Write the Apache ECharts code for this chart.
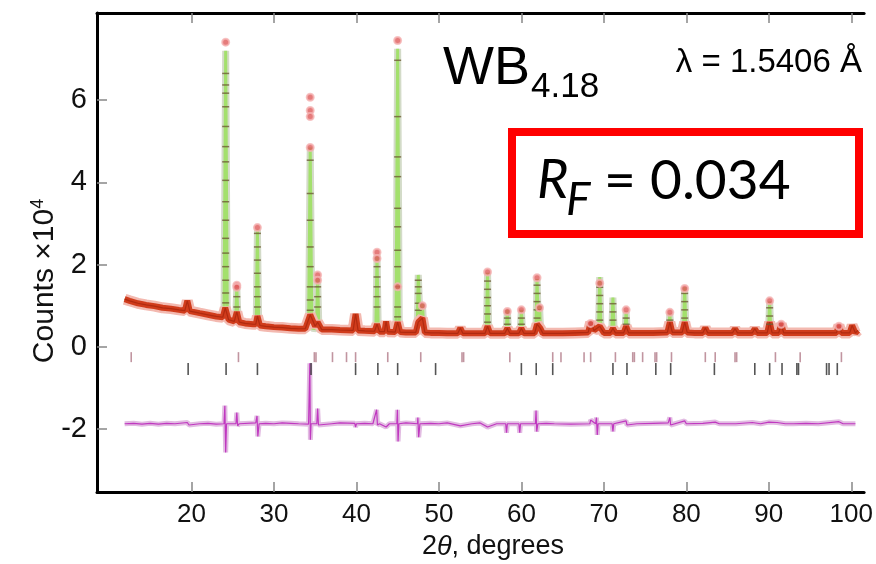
<!DOCTYPE html>
<html><head><meta charset="utf-8">
<script src="https://cdn.jsdelivr.net/npm/echarts@6/dist/echarts.min.js"></script>
<style>html,body{margin:0;padding:0;background:#fff}#c{width:876px;height:564px}</style>
</head><body><div id="c"></div>
<script>
// ---- tick labels ----
const xTicks = [20, 30, 40, 50, 60, 70, 80, 90, 100];
const yTicks = [-2, 0, 2, 4, 6];

// ---- observed pattern near background (red band), [2theta, counts x1e4] ----
const observedBand = [
 [11.9,1.16],[12.5,1.12],[13.5,1.06],[14.5,1.02],[15.5,0.99],[16.5,0.95],[17.5,0.93],[18.5,0.9],[19.2,0.88],[19.5,1.12],[19.8,0.87],
 [21,0.82],[22,0.78],[23,0.74],[23.8,0.72],[24.1,0.95],[24.5,0.66],[25.2,0.62],[25.5,0.85],[25.8,0.6],[26.5,0.57],[27.5,0.55],[27.8,0.55],
 [28.0,0.75],[28.3,0.52],[29,0.5],[30,0.48],[31,0.47],[32,0.45],[33,0.44],[33.8,0.44],[34.4,0.78],[35.0,0.5],[35.3,0.6],[35.8,0.42],
 [37,0.42],[38,0.41],[39.6,0.4],[39.9,0.8],[40.2,0.4],[41,0.39],[42.2,0.38],[42.5,0.55],[42.8,0.37],[43.4,0.37],[43.6,0.62],[43.8,0.37],
 [44.7,0.36],[45.0,0.6],[45.3,0.36],[46,0.35],[47.2,0.35],[47.5,0.6],[48.0,0.7],[48.3,0.35],[49,0.34],[50,0.34],[51,0.33],[52.3,0.33],
 [52.6,0.46],[52.9,0.33],[54,0.33],[55.6,0.33],[55.9,0.5],[56.2,0.33],[57,0.33],[58.0,0.33],[58.3,0.45],[58.6,0.33],[59.7,0.33],[60.0,0.45],
 [60.3,0.33],[61.6,0.33],[61.9,0.55],[62.3,0.45],[62.6,0.33],[64,0.33],[65,0.33],[66.5,0.34],[68.1,0.35],[68.4,0.6],[68.8,0.4],[69.5,0.5],
 [70,0.34],[70.8,0.34],[71.1,0.45],[71.4,0.34],[72.4,0.34],[72.7,0.5],[73.0,0.34],[74,0.34],[75,0.34],[76,0.34],[77.7,0.35],[78.0,0.6],
 [78.3,0.35],[79.5,0.35],[79.8,0.6],[80.1,0.35],[81,0.34],[82,0.34],[82.3,0.46],[82.6,0.34],[84,0.34],[85.6,0.34],[85.9,0.44],[86.2,0.34],
 [88.0,0.34],[88.3,0.44],[88.6,0.34],[89.8,0.34],[90.1,0.6],[90.4,0.34],[91.2,0.34],[91.5,0.56],[91.8,0.34],[93,0.34],[94,0.34],[95,0.34],
 [96.5,0.34],[98.2,0.34],[98.5,0.52],[98.8,0.34],[99.8,0.34],[100.1,0.52],[100.5,0.34],[100.8,0.4]
];

// ---- calculated profile (green) ----
const calcProfile = [
 [11.9,1.15],[15,1.0],[19.3,0.88],[19.5,1.1],[19.7,0.87],[23.95,0.72],[24.15,7.2],[24.35,0.68],[25.35,0.62],[25.5,1.45],[25.65,0.6],
 [27.85,0.55],[28.0,2.85],[28.15,0.54],[34.2,0.45],[34.4,4.85],[34.6,0.45],[35.15,0.44],[35.3,1.7],[35.45,0.43],[39.75,0.4],[39.9,0.8],
 [40.05,0.4],[42.35,0.38],[42.5,2.25],[42.65,0.38],[43.45,0.37],[43.6,0.62],[43.75,0.37],[44.8,0.36],[45.0,7.25],[45.2,0.36],[47.35,0.35],
 [47.5,1.75],[47.75,0.5],[48.0,1.05],[48.2,0.35],[52.45,0.33],[52.6,0.45],[52.75,0.33],[55.75,0.33],[55.9,1.8],[56.05,0.33],[58.15,0.33],
 [58.3,0.9],[58.45,0.33],[59.85,0.33],[60.0,0.9],[60.15,0.33],[61.75,0.33],[61.9,1.65],[62.05,0.6],[62.2,1.0],[62.35,0.33],[68.25,0.35],
 [68.4,0.6],[68.6,0.4],[69.35,0.4],[69.5,1.7],[69.65,0.34],[70.95,0.34],[71.1,1.2],[71.25,0.34],[72.55,0.34],[72.7,0.85],[72.85,0.34],
 [77.85,0.35],[78.0,0.8],[78.15,0.35],[79.65,0.35],[79.8,1.45],[79.95,0.35],[82.15,0.34],[82.3,0.45],[82.45,0.34],[85.75,0.34],[85.9,0.45],
 [86.05,0.34],[88.15,0.34],[88.3,0.45],[88.45,0.34],[89.95,0.34],[90.1,1.1],[90.25,0.34],[91.35,0.34],[91.5,0.55],[91.65,0.34],[98.35,0.34],
 [98.5,0.5],[98.65,0.34],[99.95,0.34],[100.1,0.5],[100.25,0.34],[100.6,0.36]
];

// ---- observed points on peak flanks (dashes) ----
const observedFlank = [
 [24.15,6.65],[24.15,6.37],[24.15,6.17],[24.15,5.84],[24.15,5.36],[24.15,4.87],[24.15,4.5],[24.15,4.05],[24.15,3.53],[24.15,3.08],[24.15,2.64],
 [24.15,2.28],[24.15,1.95],[24.15,1.62],[24.15,1.31],[24.15,1.07],
 [45.0,6.97],[45.0,5.6],[45.0,4.62],[45.0,4.14],[45.0,3.37],[45.0,2.92],[45.0,2.35],[45.0,1.95],[45.0,1.46],[45.0,0.97],[45.0,0.73],
 [34.4,4.54],[34.4,3.73],[34.4,3.08],[34.4,2.43],[34.4,1.95],[34.4,1.46],[34.4,1.14],[34.4,0.89],
 [28.0,2.76],[28.0,2.43],[28.0,2.11],[28.0,1.79],[28.0,1.46],[28.0,1.22],[28.0,0.97],
 [42.5,1.95],[42.5,1.7],[42.5,1.46],[42.5,1.22],[42.5,0.97],
 [47.5,1.62],[47.5,1.46],[47.5,1.3],[47.5,1.06],[47.5,0.89],
 [35.3,1.46],[35.3,1.22],[35.3,0.97],[25.5,1.22],[25.5,0.97],
 [55.9,1.6],[55.9,1.4],[55.9,1.2],[55.9,1.0],[55.9,0.8],[55.9,0.6],
 [61.9,1.5],[61.9,1.3],[61.9,1.1],[61.9,0.9],[61.9,0.7],
 [69.5,1.45],[69.5,1.25],[69.5,1.05],[69.5,0.85],[69.5,0.65],
 [71.1,1.05],[71.1,0.85],[71.1,0.65],[79.8,1.3],[79.8,1.1],[79.8,0.9],[79.8,0.7],
 [90.1,0.95],[90.1,0.75],[90.1,0.55],[58.3,0.7],[58.3,0.55],[60.0,0.7],[60.0,0.55],[72.7,0.7],[72.7,0.55],[78.0,0.65]
];

// ---- observed peak-top points (red) ----
const observedTop = [
 [24.15,7.41],[25.5,1.5],[25.5,1.45],[28.0,2.9],[34.4,6.07],[34.4,5.75],[34.4,5.6],[34.4,4.85],[35.3,1.75],[35.3,1.62],
 [42.5,2.3],[42.5,2.15],[45.0,7.45],[45.0,1.46],[48.0,1.0],[55.9,1.82],[58.3,0.86],[60.0,0.9],[61.9,1.68],[62.2,0.95],
 [68.4,0.57],[69.5,1.55],[72.7,0.9],[78.0,0.84],[79.8,1.42],[90.1,1.12],[91.5,0.55],[98.5,0.5]
];

// ---- difference curve (obs - calc, offset) ----
const difference = [
 [11.9,-1.87],[13,-1.86],[14,-1.88],[15,-1.86],[16,-1.88],[17,-1.86],[18,-1.87],[19.5,-1.84],[19.7,-1.9],[21,-1.87],[22,-1.86],[23,-1.88],
 [23.95,-1.87],[24.05,-1.43],[24.15,-2.57],[24.25,-1.87],[25.4,-1.87],[25.5,-1.6],[25.6,-1.92],[25.8,-1.87],[27.8,-1.85],[27.95,-1.68],
 [28.05,-2.18],[28.2,-1.87],[29,-1.86],[30,-1.87],[31,-1.85],[32,-1.86],[33,-1.87],[34.2,-1.88],[34.35,-0.4],[34.42,-2.26],[34.5,-1.87],
 [35.2,-1.87],[35.3,-1.5],[35.4,-1.9],[35.6,-1.87],[37,-1.87],[38,-1.85],[39.8,-1.86],[39.9,-1.95],[40,-1.87],[41,-1.86],[42,-1.87],
 [42.45,-1.53],[42.55,-1.9],[42.8,-1.87],[43.6,-1.95],[44,-1.87],[44.9,-1.87],[44.97,-1.53],[45.05,-2.3],[45.15,-1.87],[46,-1.85],
 [47.4,-1.87],[47.45,-1.72],[47.55,-2.2],[47.7,-1.87],[49,-1.86],[50,-1.87],[51,-1.85],[52.6,-1.92],[54,-1.87],[55,-1.85],[55.9,-1.95],
 [57,-1.87],[58.1,-1.87],[58.2,-2.09],[58.3,-1.87],[59.7,-1.87],[59.8,-2.09],[59.9,-1.87],[61.7,-1.87],[61.78,-1.55],[61.86,-2.06],
 [62.0,-1.87],[63,-1.86],[64,-1.87],[66,-1.88],[68.3,-1.87],[68.4,-1.78],[69.0,-1.87],[69.1,-1.72],[69.2,-2.14],[69.3,-1.87],[71.0,-1.87],
 [71.1,-2.06],[71.2,-1.87],[72.7,-1.8],[72.8,-1.9],[74,-1.87],[76,-1.86],[77.8,-1.85],[78,-1.72],[78.1,-1.9],[79.8,-1.8],[80,-1.87],
 [82,-1.86],[83.5,-1.83],[84,-1.87],[86,-1.87],[88,-1.84],[89,-1.87],[90,-1.83],[91,-1.84],[92,-1.87],[93,-1.87],[94.5,-1.86],[96,-1.87],
 [98.5,-1.82],[99,-1.87],[100.5,-1.87]
];

// ---- Bragg reflection positions ----
const braggRow1 = [12.7,25.7,34.9,35.1,37.1,38.8,39.9,43.8,47.8,52.8,53.0,58.6,63.8,64.8,67.6,68.4,71.4,73.5,73.7,74.7,76.2,76.4,78.2,82.3,83.5,85.9,86.1,90.8,93.8,98.8];
const braggRow2 = [19.6,24.2,28.0,34.5,39.9,42.6,45.0,49.6,60.0,61.8,63.8,71.1,72.8,76.3,78.1,83.4,88.3,90.1,91.6,93.4,93.6,97.0,97.3,98.3];

const ROW1_Y = -0.25, ROW2_Y = -0.54;
const FONT = 'Liberation Sans, Arial, sans-serif';

const chart = echarts.init(document.getElementById('c'), null, {renderer: 'canvas'});
chart.setOption({
  animation: false,
  backgroundColor: '#fff',
  grid: {left: 97, right: 0, top: 13, bottom: 72, containLabel: false},
  xAxis: [{
    type: 'value', min: 8.55, max: 101.55, position: 'bottom',
    axisLine: {show: true, onZero: false, lineStyle: {color: '#000', width: 3}},
    axisTick: {show: true, inside: true, length: 10, customValues: xTicks, lineStyle: {color: '#888', width: 1.5}},
    axisLabel: {show: true, customValues: xTicks, margin: 10, fontSize: 26, fontFamily: FONT, color: '#111'},
    splitLine: {show: false}
  }, {
    type: 'value', min: 8.55, max: 101.55, position: 'top',
    axisLine: {show: true, onZero: false, lineStyle: {color: '#000', width: 3}},
    axisTick: {show: true, inside: true, length: 10, customValues: xTicks, lineStyle: {color: '#888', width: 1.5}},
    axisLabel: {show: false}, splitLine: {show: false}
  }],
  yAxis: {
    type: 'value', min: -3.53, max: 8.12,
    axisLine: {show: true, onZero: false, lineStyle: {color: '#000', width: 3}},
    axisTick: {show: true, inside: true, length: 10, customValues: yTicks, lineStyle: {color: '#888', width: 1.5}},
    axisLabel: {show: true, customValues: yTicks, margin: 10, fontSize: 29, fontFamily: FONT, color: '#111'},
    splitLine: {show: false}
  },
  series: [
    {type: 'line', data: calcProfile, symbol: 'none', lineStyle: {color: '#d3dbc8', width: 7}, z: 2},
    {type: 'line', data: calcProfile, symbol: 'none', lineStyle: {color: '#a3e06c', width: 3}, z: 3},
    {type: 'line', data: observedBand, symbol: 'none', lineStyle: {color: '#f3b9b0', width: 11}, z: 4},
    {type: 'line', data: observedBand, symbol: 'none', lineStyle: {color: '#d03c1c', width: 6}, z: 5},
    {type: 'line', data: observedBand, symbol: 'none', lineStyle: {color: '#b02a10', width: 1.2}, z: 6},
    {type: 'scatter', data: observedFlank, symbol: 'rect', symbolSize: [7, 1.5], itemStyle: {color: '#6e5c34'}, z: 7},
    {type: 'scatter', data: observedTop, symbol: 'circle', symbolSize: 7, itemStyle: {color: '#df5a5a', borderColor: '#f5b5b5', borderWidth: 2}, z: 8},
    {type: 'line', data: difference, symbol: 'none', lineStyle: {color: '#e2bce2', width: 5}, z: 4},
    {type: 'line', data: difference, symbol: 'none', lineStyle: {color: '#c038c0', width: 1.2}, z: 5},
    {type: 'scatter', data: braggRow1.map(v => [v, ROW1_Y]), symbol: 'rect', symbolSize: [1.6, 10], itemStyle: {color: '#b27a88'}, z: 6},
    {type: 'scatter', data: braggRow2.map(v => [v, ROW2_Y]), symbol: 'rect', symbolSize: [1.6, 12], itemStyle: {color: '#2a2a2a'}, z: 6}
  ],
  graphic: [
    {type: 'text', x: 45, y: 281, rotation: Math.PI / 2, z: 100,
      style: {text: '{a|Counts ×10}{b|4}', align: 'center', verticalAlign: 'middle', fill: '#111',
        rich: {a: {fontSize: 30, fontFamily: FONT, fill: '#111'}, b: {fontSize: 18, fontFamily: FONT, fill: '#111', verticalAlign: 'top', padding: [0, 0, 14, 0]}}}},
    {type: 'text', x: 493, y: 547, z: 100,
      style: {text: '2{i|θ}, degrees', align: 'center', verticalAlign: 'middle', fill: '#111', fontSize: 27, fontFamily: FONT,
        rich: {i: {fontSize: 27, fontFamily: FONT, fontStyle: 'italic', fill: '#111'}}}},
    {type: 'text', x: 443, y: 69, z: 100, style: {text: 'WB', fontSize: 54, fontFamily: FONT, fill: '#000', align: 'left', verticalAlign: 'middle'}},
    {type: 'text', x: 531, y: 87, z: 100, style: {text: '4.18', fontSize: 35, fontFamily: FONT, fill: '#000', align: 'left', verticalAlign: 'middle'}},
    {type: 'text', x: 862, y: 63, z: 100, style: {text: 'λ = 1.5406 Å', fontSize: 33, fontFamily: FONT, fill: '#000', align: 'right', verticalAlign: 'middle'}},
    {type: 'rect', z: 100, shape: {x: 512, y: 132, width: 347, height: 102}, style: {fill: '#fff', stroke: '#ff0000', lineWidth: 8}},
    {type: 'text', x: 537, y: 181, z: 101, style: {text: 'R', fontSize: 54, fontFamily: 'Lato, sans-serif', fontStyle: 'italic', fill: '#000', align: 'left', verticalAlign: 'middle'}},
    {type: 'text', x: 566, y: 200, z: 101, style: {text: 'F', fontSize: 46, fontFamily: 'Lato, sans-serif', fontStyle: 'italic', fill: '#000', align: 'left', verticalAlign: 'middle'}},
    {type: 'text', x: 604, y: 181, z: 101, style: {text: '= 0.034', fontSize: 55, fontFamily: 'Lato, sans-serif', fill: '#000', align: 'left', verticalAlign: 'middle'}}
  ]
});
</script></body></html>
